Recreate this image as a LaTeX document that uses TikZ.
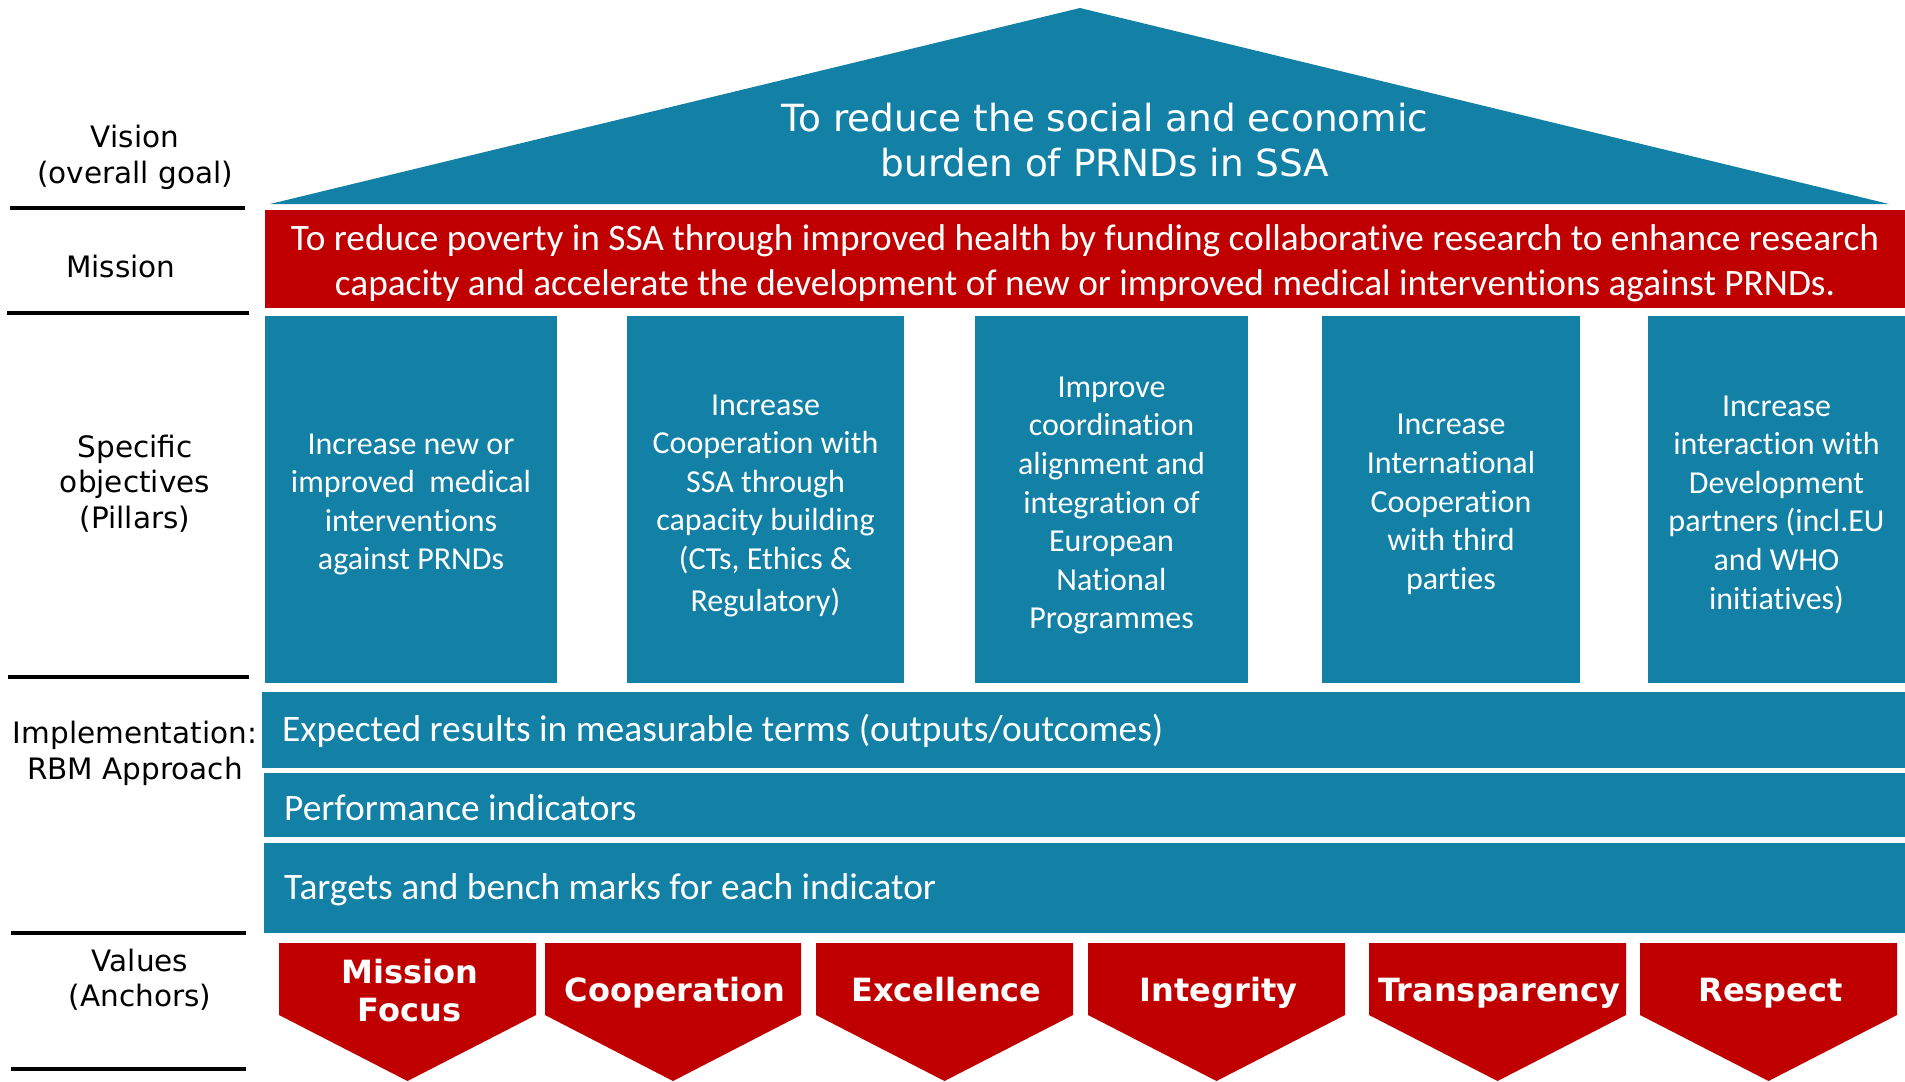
\documentclass[tikz,border=0pt]{standalone}
\usepackage{fontspec}
\setmainfont{DejaVu Sans}
\newfontfamily\calfont[Ligatures={NoCommon}]{Carlito}
\definecolor{pblue}{HTML}{1380A6}
\definecolor{pred}{HTML}{C00000}
\begin{document}
\begin{tikzpicture}[x=1pt,y=-1pt,
  lbl/.style={text=black,align=center,inner sep=0pt,font=\fontsize{29.5}{35.5}\selectfont},
  rulebar/.style={line width=4pt,black},
  pillarbox/.style={fill=pblue,inner sep=0pt,minimum height=367pt},
  pillartext/.style={text=white,align=center,inner sep=0pt,font=\calfont\fontsize{32}{38.6}\selectfont},
  bandbox/.style={fill=pblue,inner sep=0pt,minimum width=1643pt},
  bandtext/.style={text=white,anchor=west,inner sep=0pt,font=\calfont\fontsize{37.4}{40}\selectfont},
  chevtext/.style={text=white,align=center,inner sep=0pt,font=\bfseries\fontsize{32}{38}\selectfont}]
\useasboundingbox (0,0) rectangle (1905,1081);
% roof
\fill[pblue] (270,204) -- (1080,8) -- (1889,204) -- cycle;
\node[text=white,align=center,inner sep=0pt,font=\fontsize{37.4}{45}\selectfont] (vision) at (1105,140.5)
  {To reduce the social and economic\\burden of PRNDs in SSA};
% mission
\node[fill=pred,inner sep=0pt,minimum width=1640pt,minimum height=98pt] (mission) at (1085,259) {};
\node[text=white,align=center,inner sep=0pt,font=\calfont\fontsize{37.3}{45}\selectfont] (missiontext) at (1085,263)
  {To reduce poverty in SSA through improved health by funding collaborative research to enhance research\\
   capacity and accelerate the development of new or improved medical interventions against PRNDs.};
% pillars
\node[pillarbox,minimum width=292pt] (p1) at (411,499.5) {};
\node[pillarbox,minimum width=277pt] (p2) at (765.5,499.5) {};
\node[pillarbox,minimum width=273pt] (p3) at (1111.5,499.5) {};
\node[pillarbox,minimum width=258pt] (p4) at (1451,499.5) {};
\node[pillarbox,minimum width=257pt] (p5) at (1776.5,499.5) {};
\node[pillartext] (p1t) at ([yshift=-5pt]p1.center)
  {Increase new or\\improved\ \ medical\\interventions\\against PRNDs};
\node[pillartext] (p2t) at ([yshift=-6pt]p2.center)
  {Increase\\Cooperation with\\SSA through\\capacity building\\(CTs, Ethics \&\\[3pt]Regulatory)};
\node[pillartext] (p3t) at ([yshift=-6pt]p3.center)
  {Improve\\coordination\\alignment and\\integration of\\European\\National\\Programmes};
\node[pillartext] (p4t) at ([yshift=-5pt]p4.center)
  {Increase\\International\\Cooperation\\with third\\parties};
\node[pillartext] (p5t) at ([yshift=-5pt]p5.center)
  {Increase\\interaction with\\Development\\partners (incl.EU\\and WHO\\initiatives)};
% RBM bands
\node[bandbox,minimum height=76pt] (b1) at (1083.5,730) {};
\node[bandbox,minimum height=64pt] (b2) at (1085,805) {};
\node[bandbox,minimum height=90pt] (b3) at (1085,888) {};
\node[bandtext] (t1) at (282,731) {Expected results in measurable terms (outputs/outcomes)};
\node[bandtext] (t2) at (284,808) {Performance indicators};
\node[bandtext] (t3) at (284,890) {Targets and bench marks for each indicator};
% values chevrons
\foreach \xa/\xb in {279/536,545/801,816/1073,1088/1345,1369/1626,1640/1897}{
  \fill[pred] (\xa,943) -- (\xb,943) -- (\xb,1015) -- ({(\xa+\xb)/2},1081) -- (\xa,1015) -- cycle;
}
\node[chevtext] (v1) at (409.5,991) {Mission\\Focus};
\foreach \xa/\xb/\nm/\txt in {545/801/v2/Cooperation,816/1073/v3/Excellence,
    1088/1345/v4/Integrity,1369/1626/v5/Transparency,1640/1897/v6/Respect}{
  \node[chevtext,anchor=base] (\nm) at ({(\xa+\xb)/2+2},1001) {\txt};
}
% left labels
\node[lbl] (lvision) at (135,157.5) {Vision\\(overall goal)};
\node[lbl] (lmission) at (121,266) {Mission};
\node[lbl] (lspec) at (135,483.5) {Specific\\objectives\\(Pillars)};
\node[lbl] (limpl) at (135,753.5) {Implementation:\\RBM Approach};
\node[lbl] (lval) at (140,979.5) {Values\\(Anchors)};
% rules
\draw[rulebar] (10,207.5) -- (245,207.5);
\draw[rulebar] (7,313) -- (249,313);
\draw[rulebar] (8,677) -- (249,677);
\draw[rulebar] (11,933) -- (246,933);
\draw[rulebar] (11,1069) -- (246,1069);
\end{tikzpicture}
\end{document}
